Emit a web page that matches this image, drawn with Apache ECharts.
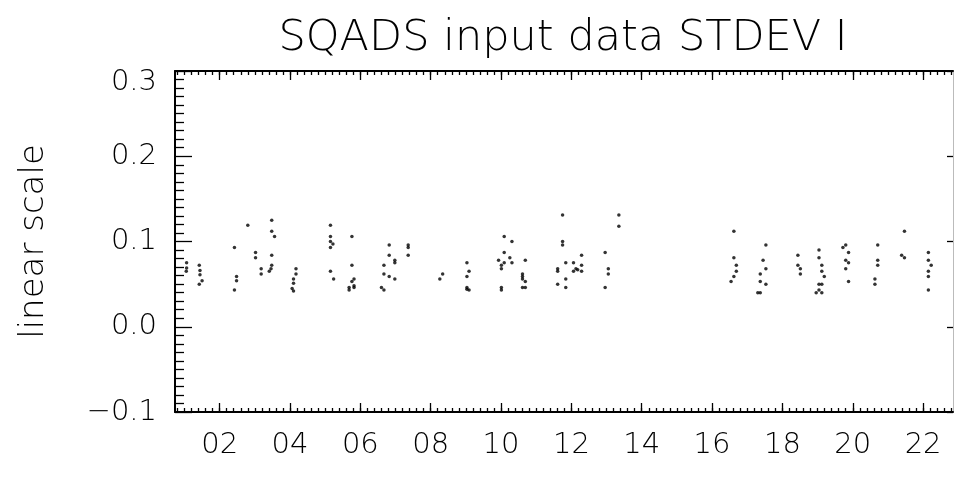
<!DOCTYPE html>
<html>
<head>
<meta charset="utf-8">
<script src="https://cdn.jsdelivr.net/npm/echarts@6/dist/echarts.min.js"></script>
<style>
  html, body { margin: 0; padding: 0; background: #fff; }
  #chart { width: 955px; height: 478px; }
</style>
</head>
<body>
<div id="chart"></div>
<script>
// Hour of day (UT) of each SQADS sample
const hours = [
  1.06, 1.06, 1.05,
  1.42, 1.44, 1.44, 1.50, 1.42,
  2.42, 2.48, 2.48, 2.42,
  2.80,
  3.02, 3.02,
  3.18, 3.18,
  3.48, 3.48, 3.56, 3.48, 3.48, 3.46, 3.41,
  4.17, 4.17, 4.10, 4.10, 4.06, 4.10,
  5.15, 5.15, 5.15, 5.22, 5.15, 5.15, 5.24,
  5.76, 5.76, 5.82, 5.76, 5.82, 5.82, 5.68, 5.68,
  6.82, 6.82, 6.67, 6.67, 6.82, 6.98, 6.98, 6.98, 6.60, 6.67,
  7.36, 7.36, 7.36,
  8.34, 8.26,
  9.03, 9.09, 9.03, 9.03, 9.09, 9.03,
  10.09, 10.31, 10.09, 9.93, 10.09, 10.25, 10.31, 10.01, 10.01, 10.01, 10.01,
  10.69, 10.61, 10.61, 10.61, 10.69, 10.61, 10.69,
  11.75, 11.75, 11.75, 11.61, 11.61, 11.84, 12.06, 12.29, 12.06, 12.13, 12.18,
  12.29, 12.29, 11.84, 11.61, 11.84,
  12.96, 13.05, 13.05, 12.96,
  13.35, 13.35,
  16.62, 16.62, 16.69, 16.69, 16.62, 16.54,
  17.53, 17.45, 17.53, 17.37, 17.37, 17.53, 17.30, 17.37,
  18.44, 18.44, 18.51, 18.51,
  19.04, 19.04, 19.12, 19.12, 19.19, 19.04, 19.12, 18.96, 19.04, 19.12,
  19.72, 19.80, 19.88, 19.80, 19.88, 19.80, 19.88,
  20.71, 20.71, 20.71, 20.63, 20.63,
  21.47, 21.39, 21.47,
  22.15, 22.15, 22.23, 22.15, 22.15, 22.15
];

// Standard deviation of the I input at each sample
const stdevI = [
  0.075, 0.069, 0.065,
  0.072, 0.066, 0.061, 0.054, 0.050,
  0.093, 0.059, 0.054, 0.043,
  0.119,
  0.087, 0.081,
  0.068, 0.062,
  0.125, 0.112, 0.106, 0.084, 0.072, 0.068, 0.065,
  0.068, 0.062, 0.056, 0.051, 0.045, 0.042,
  0.119, 0.106, 0.100, 0.097, 0.093, 0.065, 0.056,
  0.106, 0.072, 0.056, 0.053, 0.048, 0.046, 0.046, 0.043,
  0.096, 0.084, 0.072, 0.062, 0.059, 0.078, 0.075, 0.056, 0.046, 0.043,
  0.096, 0.093, 0.084,
  0.062, 0.056,
  0.075, 0.065, 0.059, 0.046, 0.043, 0.044,
  0.106, 0.100, 0.087, 0.078, 0.075, 0.081, 0.075, 0.072, 0.068, 0.046, 0.043,
  0.078, 0.062, 0.059, 0.056, 0.053, 0.046, 0.046,
  0.131, 0.100, 0.096, 0.068, 0.065, 0.075, 0.075, 0.084, 0.065, 0.068, 0.067,
  0.072, 0.065, 0.056, 0.050, 0.046,
  0.087, 0.068, 0.062, 0.046,
  0.131, 0.118,
  0.112, 0.081, 0.072, 0.065, 0.059, 0.053,
  0.096, 0.078, 0.068, 0.062, 0.053, 0.050, 0.040, 0.040,
  0.084, 0.072, 0.068, 0.062,
  0.090, 0.081, 0.072, 0.065, 0.059, 0.050, 0.050, 0.040, 0.043, 0.040,
  0.093, 0.096, 0.087, 0.078, 0.075, 0.068, 0.053,
  0.096, 0.078, 0.072, 0.056, 0.050,
  0.112, 0.084, 0.081,
  0.087, 0.078, 0.072, 0.065, 0.059, 0.043
];

// Axis ranges and tick positions
const xRange = [0.73, 22.85];
const xMajorTicks = [2, 4, 6, 8, 10, 12, 14, 16, 18, 20, 22];
const xMinorTicks = [];
for (let i = 4; i <= 114; i++) xMinorTicks.push(+(i * 0.2).toFixed(1));
const yRange = [-0.1, 0.3];
const yStep = 0.1;

const titleText = 'SQADS input data STDEV I';
const yAxisName = 'linear scale';

const FONT = 'DejaVu Sans';
const WEIGHT = 200;
const INK = '#000';

const chart = echarts.init(document.getElementById('chart'), null, { renderer: 'canvas' });

const points = hours.map((h, i) => [h, stdevI[i]]);

function xAxisBase(position, ticks, len, showLine, withLabels) {
  return {
    type: 'value',
    position: position,
    min: xRange[0],
    max: xRange[1],
    axisLine: { show: showLine, onZero: false, lineStyle: { color: INK, width: 2 } },
    axisTick: {
      show: true, inside: true, length: len, customValues: ticks,
      lineStyle: { color: INK, width: 1.3 }
    },
    axisLabel: withLabels ? {
      show: true, customValues: xMajorTicks,
      formatter: v => String(Math.round(v)).padStart(2, '0'),
      color: INK, fontFamily: FONT, fontWeight: WEIGHT, fontSize: 29, margin: 19
    } : { show: false },
    splitLine: { show: false },
    minorTick: { show: false }
  };
}

chart.setOption({
  animation: false,
  backgroundColor: '#fff',
  grid: { left: 175, top: 71, right: 2, bottom: 66, containLabel: false },
  graphic: [{
    type: 'text',
    x: 563, y: 17,
    style: {
      text: titleText,
      textAlign: 'center', textVerticalAlign: 'top',
      fill: INK, font: WEIGHT + ' 43px "' + FONT + '"'
    }
  }],
  xAxis: [
    xAxisBase('bottom', xMajorTicks, 9, true, true),
    xAxisBase('bottom', xMinorTicks, 4, false, false),
    xAxisBase('top', xMajorTicks, 9, true, false),
    xAxisBase('top', xMinorTicks, 4, false, false)
  ],
  yAxis: [{
    type: 'value',
    position: 'left',
    min: yRange[0], max: yRange[1], interval: yStep,
    name: yAxisName,
    nameLocation: 'middle',
    nameRotate: 90,
    nameGap: 124,
    nameTextStyle: { color: INK, fontFamily: FONT, fontWeight: WEIGHT, fontSize: 34 },
    axisLine: { show: true, onZero: false, lineStyle: { color: INK, width: 2 } },
    axisTick: { show: true, inside: true, length: 17, lineStyle: { color: INK, width: 1.3 } },
    minorTick: { show: true, splitNumber: 10, length: 9, lineStyle: { color: INK, width: 1.3 } },
    axisLabel: {
      color: INK, fontFamily: FONT, fontWeight: WEIGHT, fontSize: 29, margin: 18,
      formatter: v => {
        const s = Math.abs(v).toFixed(1);
        const t = (v < -1e-9 ? '\u2212' : '') + s;
        return Math.abs(v - yRange[1]) < 1e-9 ? '{top|' + t + '}' : t;
      },
      rich: { top: { color: INK, fontFamily: FONT, fontWeight: WEIGHT, fontSize: 29, padding: [22, 0, 0, 0] } }
    },
    splitLine: { show: false }
  }, {
    type: 'value',
    position: 'right',
    min: yRange[0], max: yRange[1], interval: yStep,
    axisLine: { show: true, onZero: false, lineStyle: { color: '#bbb', width: 1 } },
    axisTick: { show: true, inside: true, length: 6, lineStyle: { color: INK, width: 1.3 } },
    axisLabel: { show: false },
    splitLine: { show: false }
  }],
  series: [{
    type: 'scatter',
    xAxisIndex: 0,
    yAxisIndex: 0,
    data: points,
    symbol: 'circle',
    symbolSize: 3.5,
    itemStyle: { color: '#000' },
    silent: true
  }]
});
</script>
</body>
</html>
